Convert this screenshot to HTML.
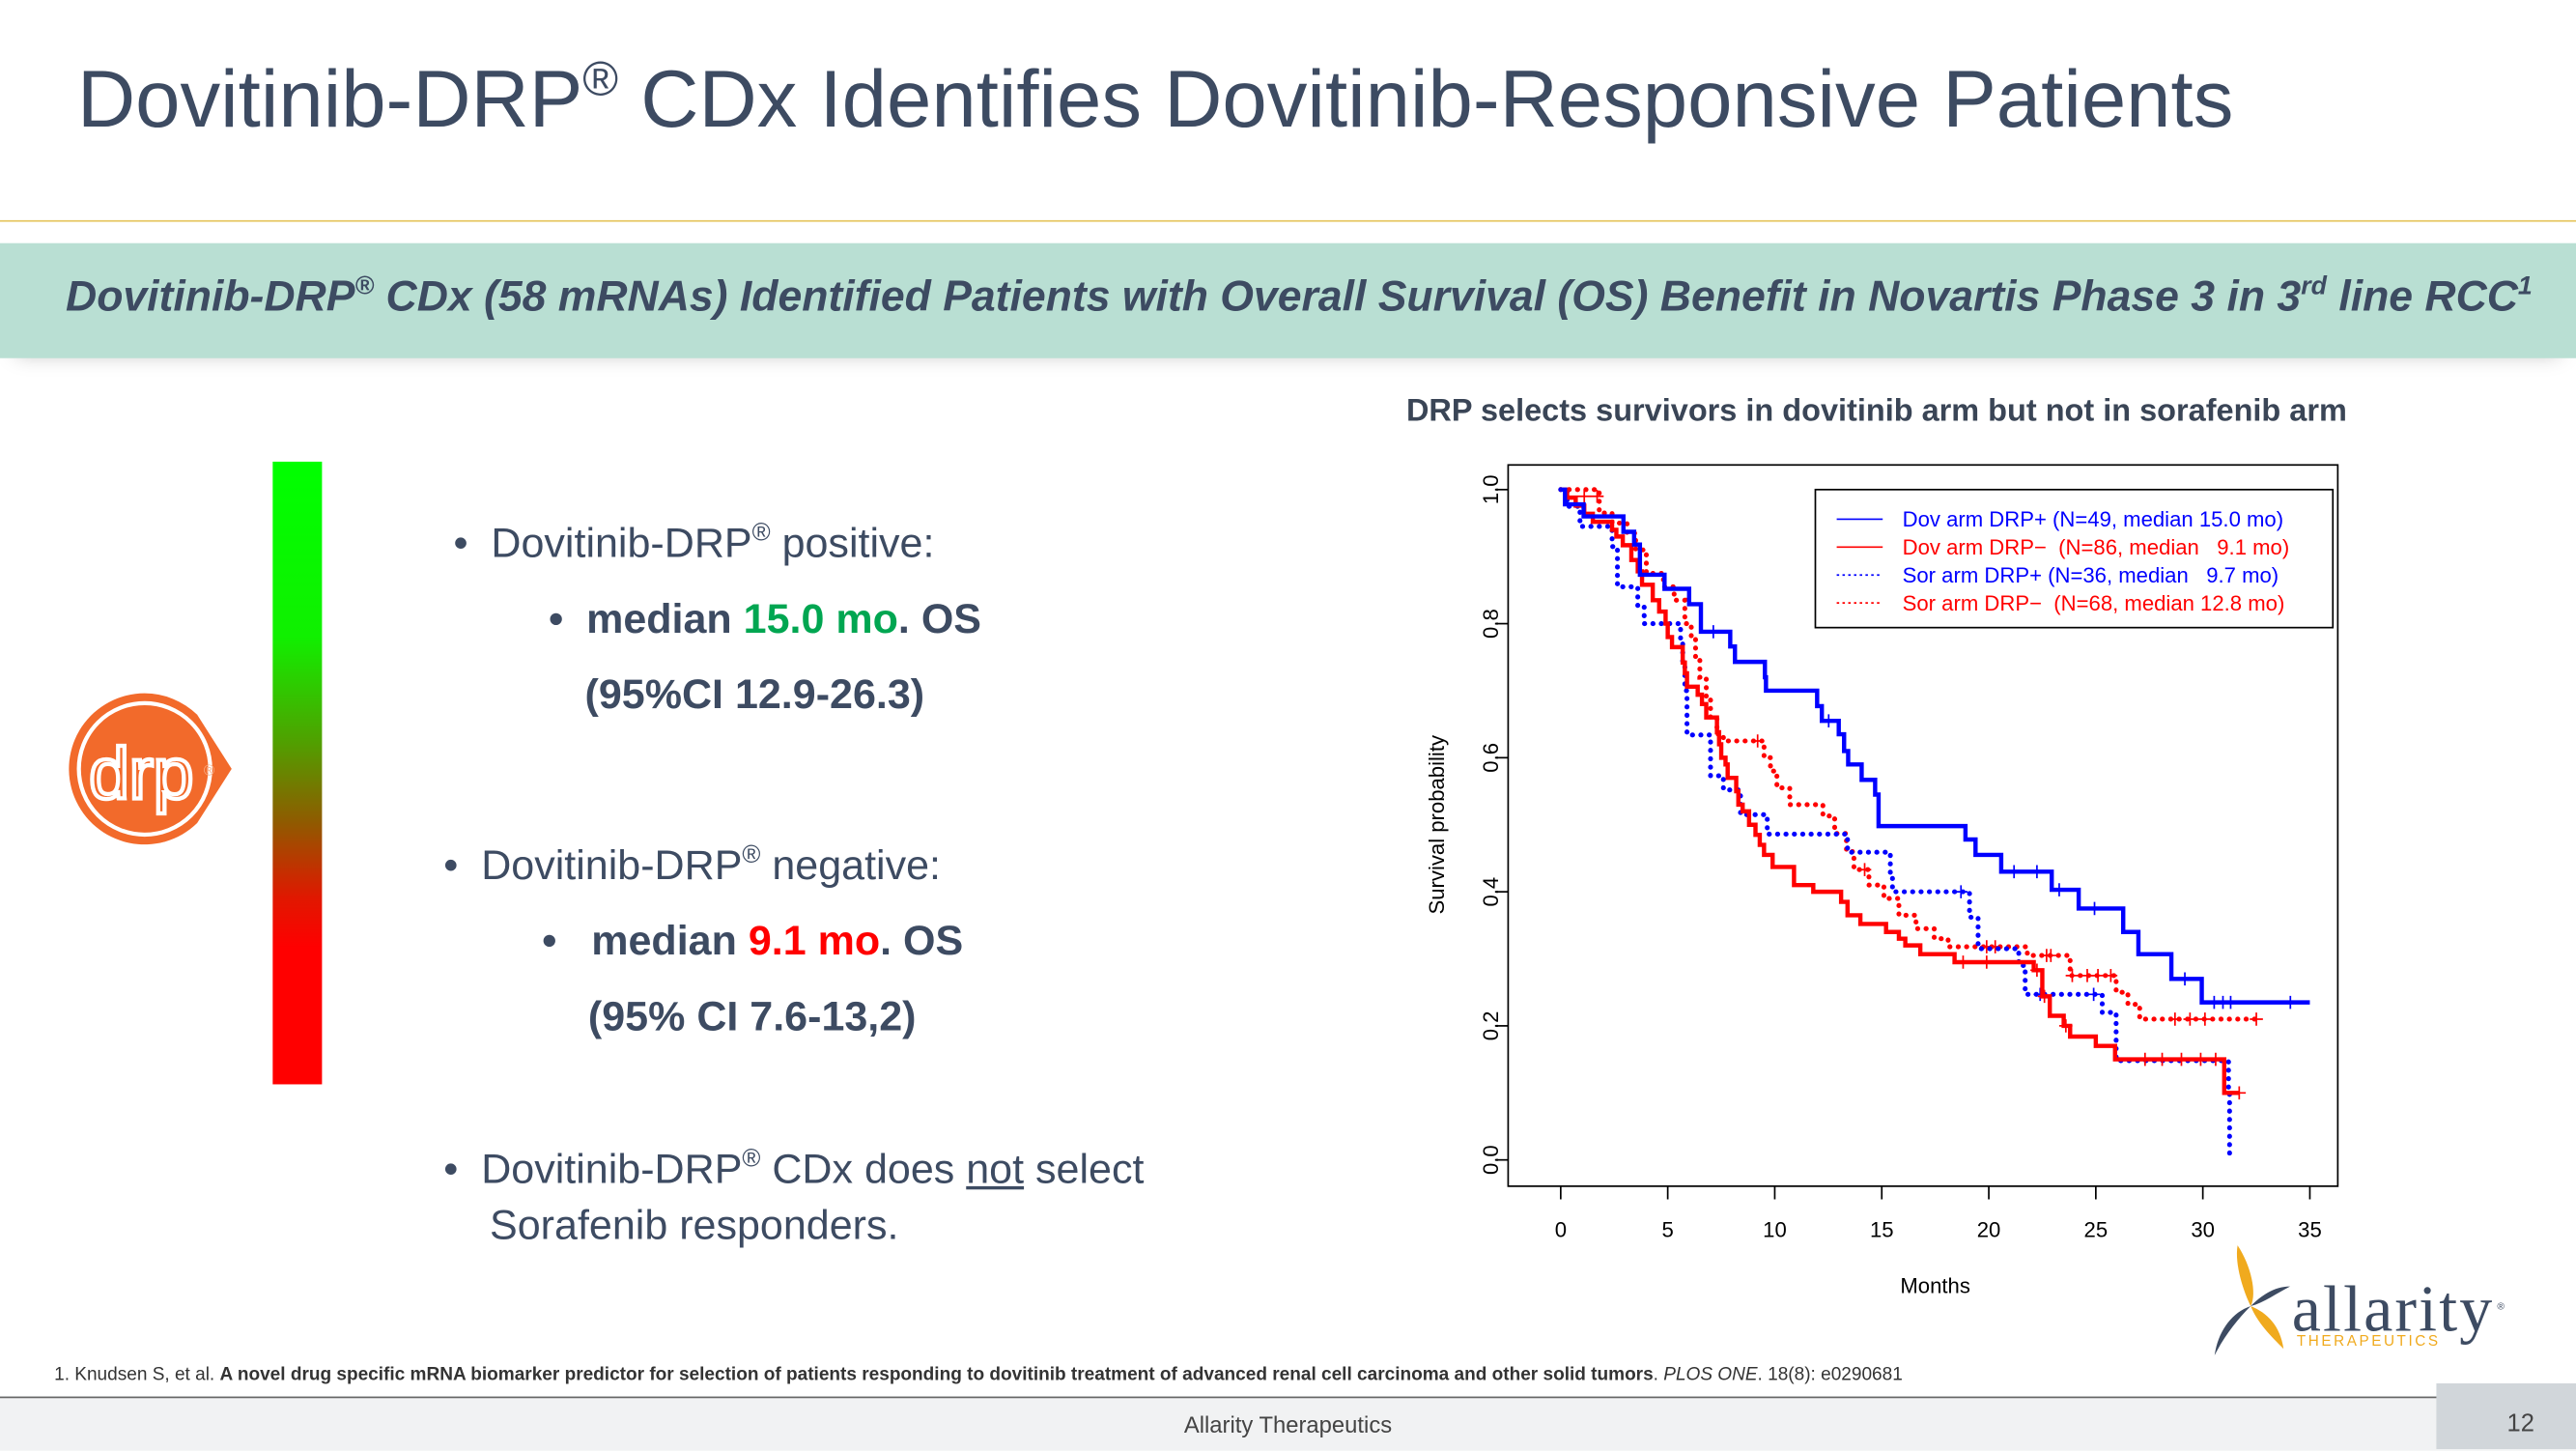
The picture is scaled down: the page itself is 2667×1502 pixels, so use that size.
<!DOCTYPE html>
<html><head><meta charset="utf-8">
<style>
html,body{margin:0;padding:0;background:#fff;}
body{width:2667px;height:1500px;overflow:hidden;position:relative;}
#s{position:absolute;left:0;top:0;width:1568px;height:882px;transform:scale(1.70089,1.70068);transform-origin:0 0;font-family:"Liberation Sans",sans-serif;color:#3d4b62;}
.a{position:absolute;white-space:nowrap;}
.b{font-weight:bold;}
sup{font-size:60%;vertical-align:0;position:relative;top:-0.65em;}
</style></head><body>
<div id="s">
<div class="a" style="left:47px;top:33px;font-size:49px;">Dovitinib-DRP<sup>®</sup> CDx Identifies Dovitinib-Responsive Patients</div>
<div class="a" style="left:0;top:134px;width:1568px;height:1px;background:#e6c660;"></div>
<div class="a" style="left:0;top:148px;width:1568px;height:70px;background:#b9dfd3;box-shadow:0 8px 12px -10px rgba(0,0,0,0.25);"></div>
<div class="a b" style="left:40px;top:165px;font-size:26.2px;font-style:italic;">Dovitinib-DRP<sup>®</sup> CDx (58 mRNAs) Identified Patients with Overall Survival (OS) Benefit in Novartis Phase 3 in 3<sup>rd</sup> line RCC<sup>1</sup></div>

<div class="a" style="left:166px;top:281px;width:30px;height:379px;background:linear-gradient(#00ff00 0%,#10f000 28%,#50a000 45%,#905a00 58%,#e01800 70%,#ff0000 78%,#ff0000 100%);"></div>
<svg class="a" style="left:34px;top:420px;" width="110" height="96" viewBox="0 0 110 96">
<path d="M54 2 A46 46 0 1 0 86 81 L107 48 L86 15 A46 46 0 0 0 54 2Z" fill="#f26a2b"/>
<circle cx="54" cy="48" r="40" fill="none" stroke="#fff" stroke-width="2.5"/>
<text x="52" y="66" font-family="Liberation Sans,sans-serif" font-size="44" fill="#f26a2b" stroke="#fff" stroke-width="2.5" text-anchor="middle">drp</text>
<text x="90" y="52" font-size="9" fill="#f8b08a" font-family="Liberation Sans,sans-serif">®</text>
</svg>

<div class="a" style="left:276px;top:317px;font-size:25.3px;">•&nbsp;&nbsp;Dovitinib-DRP<sup>®</sup> positive:</div>
<div class="a b" style="left:334px;top:363px;font-size:25.3px;">•&nbsp;&nbsp;median <span style="color:#00a651">15.0 mo</span>. OS</div>
<div class="a b" style="left:356px;top:409px;font-size:25.3px;">(95%CI 12.9-26.3)</div>
<div class="a" style="left:270px;top:513px;font-size:25.3px;">•&nbsp;&nbsp;Dovitinib-DRP<sup>®</sup> negative:</div>
<div class="a b" style="left:330px;top:559px;font-size:25.3px;">•&nbsp;&nbsp;&nbsp;median <span style="color:#ff0000">9.1 mo</span>. OS</div>
<div class="a b" style="left:358px;top:605px;font-size:25.3px;">(95% CI 7.6-13,2)</div>
<div class="a" style="left:270px;top:697px;font-size:25.3px;line-height:31px;">•&nbsp;&nbsp;Dovitinib-DRP<sup>®</sup> CDx does <u>not</u> select<br>&nbsp;&nbsp;&nbsp;&nbsp;Sorafenib responders.</div>

<div class="a b" style="left:856px;top:240px;font-size:19.1px;color:#3a4556;">DRP selects survivors in dovitinib arm but not in sorafenib arm</div>

<svg id="km" class="a" style="left:0;top:0;" width="1568" height="882" font-family="Liberation Sans,sans-serif"></svg>

<div class="a" style="left:33px;top:831px;font-size:11.2px;color:#333;">1. Knudsen S, et al. <b>A novel drug specific mRNA biomarker predictor for selection of patients responding to dovitinib treatment of advanced renal cell carcinoma and other solid tumors</b>. <i>PLOS ONE</i>. 18(8): e0290681</div>
<div class="a" style="left:0;top:850px;width:1568px;height:32px;background:#f1f2f3;border-top:1.5px solid #666;"></div>
<div class="a" style="left:0;top:859px;width:1568px;text-align:center;font-size:14px;color:#444;">Allarity Therapeutics</div>
<div class="a" style="left:1483px;top:842px;width:85px;height:40px;background:#d1d6da;"></div>
<div class="a" style="left:1526px;top:858px;font-size:15px;color:#444;">12</div>

<svg class="a" style="left:1340px;top:755px;" width="190" height="72" viewBox="0 0 190 72">
<path d="M22 3 C30 15 34 32 30 40 C26 32 20 15 22 3Z" fill="#f0aa1e"/>
<path d="M30 40 C40 44 48 52 50 66 C42 58 34 50 30 40Z" fill="#f0aa1e"/>
<path d="M30 40 C22 48 14 58 8 70 C10 56 18 44 30 40Z" fill="#3d4b62"/>
<path d="M30 40 C36 34 44 28 54 28 C46 32 38 38 30 40Z" fill="#3d4b62"/>
<text x="55" y="55" font-family="Liberation Serif,serif" font-size="40" fill="#3d4b62" textLength="122">allarity</text>
<text x="180" y="42" font-size="6" fill="#3d4b62">®</text>
<text x="58" y="64" font-size="9" letter-spacing="1.5" fill="#f0aa1e">THERAPEUTICS</text>
</svg>
</div>
<script>
// Kaplan–Meier data: [months, survival] step points
const dovPosSteps=[[0.2,0.978],[1.07,0.96],[2.93,0.937],[3.43,0.918],[3.7,0.873],[4.85,0.852],[6.0,0.829],[6.55,0.788],[7.92,0.766],[8.14,0.743],[9.54,0.72],[9.59,0.70],[11.98,0.677],[12.2,0.655],[12.99,0.635],[13.24,0.61],[13.43,0.59],[14.06,0.567],[14.69,0.545],[14.85,0.498],[18.91,0.478],[19.38,0.455],[20.58,0.43],[22.94,0.403],[24.2,0.375],[26.28,0.34],[26.99,0.307],[28.53,0.27],[29.95,0.235]];
const dovPosEnd=35;
const dovPosCens=[[7.13,0.788],[12.52,0.655],[21.18,0.43],[22.25,0.43],[23.29,0.403],[24.94,0.375],[29.16,0.27],[30.53,0.235],[30.94,0.235],[31.3,0.235],[34.09,0.235]];
const dovNegSteps=[[0.3,0.988],[0.7,0.976],[1.1,0.964],[1.5,0.952],[2.4,0.94],[2.6,0.93],[2.9,0.917],[3.3,0.895],[3.6,0.878],[3.8,0.858],[4.3,0.835],[4.6,0.818],[4.9,0.8],[5.0,0.78],[5.2,0.765],[5.7,0.742],[5.8,0.726],[5.9,0.706],[6.4,0.694],[6.6,0.68],[6.8,0.66],[7.3,0.638],[7.4,0.62],[7.5,0.6],[7.7,0.59],[7.8,0.57],[8.2,0.55],[8.3,0.53],[8.5,0.52],[8.8,0.5],[9.1,0.485],[9.3,0.47],[9.5,0.455],[9.9,0.437],[10.9,0.41],[11.8,0.40],[13.1,0.385],[13.4,0.365],[14.0,0.352],[15.2,0.34],[15.8,0.33],[16.1,0.32],[16.8,0.307],[18.4,0.295],[22.1,0.283],[22.5,0.244],[22.85,0.215],[23.5,0.20],[23.8,0.184],[25.0,0.17],[25.9,0.15],[31.0,0.10]];
const dovNegEnd=31.7;
const dovNegCens=[[18.8,0.295],[19.9,0.295],[22.25,0.283],[22.6,0.244],[23.6,0.20],[27.3,0.15],[28.1,0.15],[29.0,0.15],[29.9,0.15],[30.6,0.15],[31.7,0.10]];
const sorPosSteps=[[0.3,0.975],[0.9,0.945],[2.4,0.915],[2.65,0.855],[3.6,0.825],[3.9,0.80],[5.6,0.77],[5.7,0.74],[5.8,0.70],[5.9,0.634],[7.0,0.573],[7.6,0.552],[8.4,0.515],[9.65,0.486],[13.4,0.459],[15.4,0.423],[15.5,0.40],[19.1,0.362],[19.5,0.315],[21.4,0.29],[21.7,0.247],[25.3,0.22],[25.95,0.148],[31.2,0.10],[31.25,0.0]];
const sorPosEnd=31.25;
const sorPosCens=[[18.7,0.40],[22.4,0.247],[24.9,0.247]];
const sorNegSteps=[[1.8,0.965],[2.4,0.95],[3.1,0.935],[3.5,0.91],[4.0,0.875],[4.8,0.855],[5.3,0.835],[5.8,0.80],[6.1,0.78],[6.3,0.75],[6.5,0.72],[6.8,0.69],[7.0,0.66],[7.3,0.635],[7.6,0.625],[9.5,0.60],[9.8,0.58],[10.1,0.555],[10.7,0.53],[12.25,0.513],[12.8,0.487],[13.35,0.46],[13.7,0.433],[14.4,0.41],[15.1,0.39],[15.8,0.365],[16.6,0.345],[17.45,0.33],[18.1,0.318],[21.8,0.305],[23.8,0.275],[25.95,0.25],[26.5,0.232],[27.05,0.21]];
const sorNegEnd=32.8;
const sorNegCens=[[1.1,0.99],[1.7,0.99],[9.2,0.625],[14.2,0.433],[19.9,0.318],[20.3,0.318],[22.7,0.305],[22.9,0.305],[23.9,0.275],[24.6,0.275],[25.1,0.275],[25.7,0.275],[28.7,0.21],[29.4,0.21],[30.1,0.21],[32.5,0.21]];
const xTicks=[0,5,10,15,20,25,30,35];
const yTicks=[0,0.2,0.4,0.6,0.8,1.0];
const yTickLabels=["0.0","0.2","0.4","0.6","0.8","1.0"];
const legendLabels=["Dov arm DRP+ (N=49, median 15.0 mo)","Dov arm DRP\u2212  (N=86, median   9.1 mo)","Sor arm DRP+ (N=36, median   9.7 mo)","Sor arm DRP\u2212  (N=68, median 12.8 mo)"];

const NS="http://www.w3.org/2000/svg";
const svg=document.getElementById('km');
const X=t=>950+t*(1406-950)/35;
const Y=s=>706-s*408;
function mk(tag,attrs,parent){const e=document.createElementNS(NS,tag);for(const k in attrs)e.setAttribute(k,attrs[k]);(parent||svg).appendChild(e);return e;}

const box=mk('rect',{x:918,y:283,width:505,height:439,fill:'none',stroke:'#000','stroke-width':1});


xTicks.forEach(v=>{
  const l=mk('line',{x1:X(v),x2:X(v),y1:722,y2:730,stroke:'#000','stroke-width':1});
  
  
  const t=mk('text',{x:X(v),y:753,'font-size':13,'text-anchor':'middle',fill:'#000'});
  t.textContent=v;
  
  
});
yTicks.forEach((v,i)=>{
  const l=mk('line',{x1:910,x2:918,y1:Y(v),y2:Y(v),stroke:'#000','stroke-width':1});
  
  
  const t=mk('text',{x:0,y:0,'font-size':13,'text-anchor':'middle',fill:'#000',transform:`translate(912,${Y(v)}) rotate(-90)`});
  t.textContent=yTickLabels[i];
  
  
});
const xt=mk('text',{x:1178,y:787,'font-size':13,'text-anchor':'middle',fill:'#000'});
xt.textContent='Months';


const yt=mk('text',{x:0,y:0,'font-size':13,'text-anchor':'middle',fill:'#000',transform:'translate(879,502) rotate(-90)'});
yt.textContent='Survival probability';



function curve(steps,end,cens,color,dotted,name){
  let d=`M${X(0)},${Y(1)}`;
  steps.forEach(p=>{d+=` H${X(p[0])} V${Y(p[1])}`;});
  d+=` H${X(end)}`;
  const attrs={d:d,fill:'none',stroke:color,'stroke-width':dotted?3:2.6};
  if(dotted){attrs['stroke-dasharray']='0.1 5';attrs['stroke-linecap']='round';}
  const p=mk('path',attrs);
  
  
  cens.forEach(c=>{
    const m=mk('path',{d:`M${X(c[0])-4},${Y(c[1])} h8 M${X(c[0])},${Y(c[1])-4} v8`,stroke:color,'stroke-width':1,fill:'none'});
    
    
  });
}
curve(sorNegSteps,sorNegEnd,sorNegCens,'#ff0000',true,'sor-drp-neg-curve');
curve(sorPosSteps,sorPosEnd,sorPosCens,'#0000ff',true,'sor-drp-pos-curve');
curve(dovNegSteps,dovNegEnd,dovNegCens,'#ff0000',false,'dov-drp-neg-curve');
curve(dovPosSteps,dovPosEnd,dovPosCens,'#0000ff',false,'dov-drp-pos-curve');

const lg=mk('rect',{x:1105,y:298,width:315,height:84,fill:'#fff',stroke:'#000','stroke-width':1});


const lcol=['#0000ff','#ff0000','#0000ff','#ff0000'];
legendLabels.forEach((lab,i)=>{
  const y=316+i*17;
  const l=mk('line',{x1:1118,x2:1146,y1:y,y2:y,stroke:lcol[i],'stroke-width':1});
  if(i>=2)l.setAttribute('stroke-dasharray','1.5 2');
  
  
  const t=mk('text',{x:1158,y:y+4.5,'font-size':13,fill:lcol[i],'xml:space':'preserve'});
  t.setAttribute('style','white-space:pre');
  t.textContent=lab;
  
  
});
</script>
</body></html>
